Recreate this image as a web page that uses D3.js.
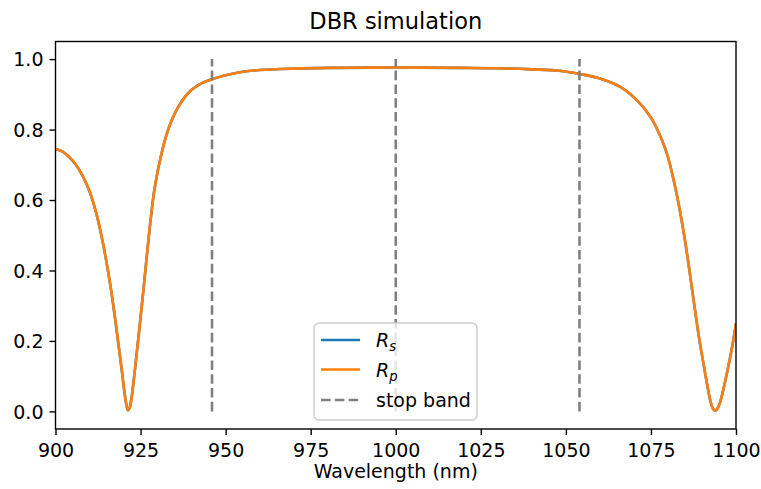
<!DOCTYPE html>
<html>
<head>
<meta charset="utf-8">
<script src="https://cdn.jsdelivr.net/npm/d3@7/dist/d3.min.js"></script>
<style>
  body { margin: 0; background: #fff; }
  svg { display: block; font-family: "DejaVu Sans", sans-serif; }
</style>
</head>
<body>
<svg id="chart" width="761" height="489"></svg>
<script>
// ---- data ----
const wavelengths = [900, 902, 904, 906, 908, 910, 912, 914, 916, 917.5, 918.6, 919.5, 920.3, 920.8, 921.3, 921.8, 922.3, 922.9, 923.7, 924.6, 926, 927.1, 928, 929, 930, 931, 932.1, 934, 936, 938, 940, 943, 946, 950, 955, 960, 970, 980, 1000, 1020, 1030, 1040, 1048, 1054, 1060, 1066, 1071, 1075, 1078, 1080, 1082.5, 1085, 1087, 1089, 1091, 1092.4, 1093.1, 1093.8, 1094.5, 1095.3, 1097.3, 1099, 1100];
const rsValues = [0.745, 0.738, 0.722, 0.700, 0.668, 0.625, 0.562, 0.475, 0.365, 0.265, 0.183, 0.115, 0.052, 0.020, 0.003, 0.010, 0.035, 0.080, 0.150, 0.230, 0.360, 0.467, 0.548, 0.625, 0.680, 0.725, 0.768, 0.823, 0.863, 0.892, 0.913, 0.932, 0.943, 0.954, 0.964, 0.969, 0.973, 0.975, 0.976, 0.975, 0.974, 0.971, 0.967, 0.958, 0.945, 0.921, 0.882, 0.834, 0.776, 0.722, 0.620, 0.486, 0.353, 0.218, 0.105, 0.033, 0.010, 0.002, 0.007, 0.025, 0.107, 0.190, 0.250];
const rpValues = rsValues.slice();
const stopBand = [946, 1000, 1054];
const xTicks = [900, 925, 950, 975, 1000, 1025, 1050, 1075, 1100];
const yTicks = [0.0, 0.2, 0.4, 0.6, 0.8, 1.0];
const titleText = "DBR simulation";
const xLabelText = "Wavelength (nm)";

// ---- layout ----
const svg = d3.select("#chart");
const L = 55.5, R = 736, T = 41.5, B = 429;
const x = d3.scaleLinear().domain([900, 1100]).range([L, R]);
const y = d3.scaleLinear().domain([-0.05, 1.05]).range([B, T]);
const fs = 19;

svg.append("clipPath").attr("id", "clip")
  .append("rect").attr("x", L).attr("y", T).attr("width", R - L).attr("height", B - T);

const line = d3.line().x(d => x(d[0])).y(d => y(d[1])).curve(d3.curveCatmullRom.alpha(0.5));
const g = svg.append("g").attr("clip-path", "url(#clip)");

g.append("path").datum(wavelengths.map((w, i) => [w, rsValues[i]]))
  .attr("d", line).attr("fill", "none").attr("stroke", "#1f77b4").attr("stroke-width", 2.6)
  .attr("stroke-linejoin", "round");
g.append("path").datum(wavelengths.map((w, i) => [w, rpValues[i]]))
  .attr("d", line).attr("fill", "none").attr("stroke", "#ff7f0e").attr("stroke-width", 2.6)
  .attr("stroke-linejoin", "round");

g.selectAll("path.sb").data(stopBand).enter().append("path").attr("class", "sb")
  .attr("d", d => `M${x(d)},${y(0)}L${x(d)},${y(1)}`)
  .attr("stroke", "#808080").attr("stroke-width", 2.6).attr("stroke-dasharray", "9.6,4.2")
  .attr("fill", "none");

// ---- axes ----
const xAxis = svg.append("g").attr("transform", `translate(0,${B})`)
  .call(d3.axisBottom(x).tickValues(xTicks).tickFormat(d3.format("d")).tickSize(6).tickPadding(5));
const yAxis = svg.append("g").attr("transform", `translate(${L},0)`)
  .call(d3.axisLeft(y).tickValues(yTicks).tickFormat(d3.format(".1f")).tickSize(6).tickPadding(6));
[xAxis, yAxis].forEach(a => {
  a.select(".domain").remove();
  a.selectAll(".tick line").attr("stroke", "#000").attr("stroke-width", 1.4);
  a.selectAll(".tick text").attr("fill", "#000").style("font-size", fs + "px")
    .style("font-family", "DejaVu Sans");
});
xAxis.selectAll(".tick text").attr("dy", null).attr("y", 28);
yAxis.selectAll(".tick text").attr("dy", "0.36em");

svg.append("rect").attr("x", L).attr("y", T).attr("width", R - L).attr("height", B - T)
  .attr("fill", "none").attr("stroke", "#000").attr("stroke-width", 1.4);

// ---- text ----
svg.append("text").attr("x", (L + R) / 2).attr("y", 29).attr("text-anchor", "middle")
  .style("font-size", "22.5px").text(titleText);
svg.append("text").attr("x", (L + R) / 2).attr("y", 478).attr("text-anchor", "middle")
  .style("font-size", fs + "px").text(xLabelText);

// ---- legend ----
const lg = svg.append("g");
const lx = 314, ly = 323, lw = 163, lh = 97;
lg.append("rect").attr("x", lx).attr("y", ly).attr("width", lw).attr("height", lh)
  .attr("rx", 5).attr("fill", "#fff").attr("fill-opacity", 0.8)
  .attr("stroke", "#cccccc").attr("stroke-width", 1.4);
const entries = [
  { color: "#1f77b4", dash: null, main: "R", sub: "s" },
  { color: "#ff7f0e", dash: null, main: "R", sub: "p" },
  { color: "#808080", dash: "9.6,4.2", text: "stop band" }
];
const rowY = [340, 369.5, 400];
entries.forEach((e, i) => {
  const yy = rowY[i];
  lg.append("line").attr("x1", 321).attr("x2", 360).attr("y1", yy).attr("y2", yy)
    .attr("stroke", e.color).attr("stroke-width", 2.6).attr("stroke-dasharray", e.dash);
  const t = lg.append("text").attr("x", 376).attr("y", yy + 7).style("font-size", fs + "px");
  if (e.text) {
    t.text(e.text);
  } else {
    t.append("tspan").style("font-style", "italic").text(e.main);
    t.append("tspan").attr("dy", 4).style("font-size", (fs * 0.7) + "px").style("font-style", "italic").text(e.sub);
  }
});
</script>
</body>
</html>
